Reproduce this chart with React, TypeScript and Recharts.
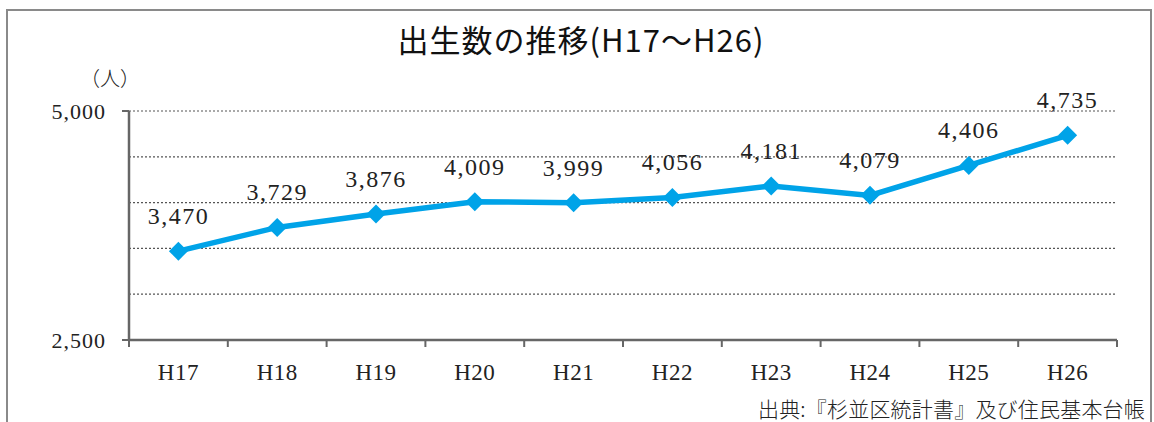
import { LabelList, Line, LineChart, ReferenceLine, XAxis, YAxis } from "recharts";

const years = ["H17", "H18", "H19", "H20", "H21", "H22", "H23", "H24", "H25", "H26"];
const births = [3470, 3729, 3876, 4009, 3999, 4056, 4181, 4079, 4406, 4735];
const yTicks = [2500, 5000];
const gridValues = [3000, 3500, 4000, 4500, 5000];

const data = years.map((year, i) => ({ year, births: births[i] }));

const LINE = "#00a3e8";
const AXIS = "#666666";
const SERIF = "'Liberation Serif', 'DejaVu Serif', serif";
const GOTHIC = "'Noto Sans CJK JP', 'Noto Sans', sans-serif";

const W = 1154;
const H = 422;
const Y_W = 60;
const MARGIN = { top: 111, right: 37, left: 69, bottom: 52 };
const BAND = (W - MARGIN.left - MARGIN.right - Y_W) / years.length;

const fmt = (v: number) => v.toLocaleString("en-US");

function XTick(props: any) {
  const { x, y, payload, index } = props;
  const last = index === years.length - 1;
  return (
    <g>
      <line x1={x - BAND / 2} x2={x - BAND / 2} y1={y - 8} y2={y - 1} stroke={AXIS} strokeWidth={2} />
      {last && <line x1={x + BAND / 2} x2={x + BAND / 2} y1={y - 8} y2={y - 1} stroke={AXIS} strokeWidth={2} />}
      <text x={x} y={y + 32} textAnchor="middle" fontFamily={SERIF} fontSize={23} letterSpacing={0.5} fill="#222">
        {payload.value}
      </text>
    </g>
  );
}

function YTick(props: any) {
  const { x, y, payload } = props;
  return (
    <g>
      <text x={x - 14} y={y + 8} textAnchor="end" fontFamily={SERIF} fontSize={22} letterSpacing={1} fill="#222">
        {fmt(payload.value)}
      </text>
    </g>
  );
}

function Diamond(props: any) {
  const { cx, cy } = props;
  if (cx == null || cy == null) return null;
  const r = 9.5;
  return <path d={`M${cx},${cy - r}L${cx + r},${cy}L${cx},${cy + r}L${cx - r},${cy}Z`} fill={LINE} />;
}

export default function App() {
  return (
    <div style={{ position: "absolute", left: 0, top: 0, width: W, height: H, background: "#fff", overflow: "hidden" }}>
      <div
        style={{
          position: "absolute",
          left: 6,
          top: 9,
          width: 1142,
          height: 440,
          border: "2px solid #8a8a8a",
        }}
      />
      <div
        style={{
          position: "absolute",
          left: 0,
          width: W,
          top: 17,
          textAlign: "center",
          fontFamily: GOTHIC,
          fontSize: 31,
          fontWeight: 400,
          letterSpacing: 1,
          color: "#111",
          paddingLeft: 4,
          lineHeight: "44px",
        }}
      >
        出生数の推移(H17～H26)
      </div>
      <div
        style={{
          position: "absolute",
          left: 80,
          top: 63,
          fontFamily: GOTHIC,
          fontSize: 20,
          fontWeight: 300,
          color: "#222",
          lineHeight: "30px",
        }}
      >
        （人）
      </div>
      <div
        style={{
          position: "absolute",
          right: 9,
          top: 393,
          fontFamily: GOTHIC,
          fontSize: 21,
          fontWeight: 300,
          letterSpacing: 0.2,
          color: "#222",
          lineHeight: "30px",
        }}
      >
        出典:『杉並区統計書』及び住民基本台帳
      </div>
      <div style={{ position: "absolute", left: 0, top: 0 }}>
        <LineChart width={W} height={H} data={data} margin={MARGIN}>
          {gridValues.map((v) => (
            <ReferenceLine key={v} y={v} stroke="#555" strokeWidth={1.2} strokeDasharray="2 2" />
          ))}
          <XAxis
            dataKey="year"
            tickLine={false}
            axisLine={{ stroke: AXIS, strokeWidth: 2.5 }}
            tick={<XTick />}
            height={30}
            interval={0}
            padding={{ left: BAND / 2, right: BAND / 2 }}
          />
          <YAxis
            domain={[2500, 5000]}
            ticks={yTicks}
            width={Y_W}
            tickSize={7}
            tickLine={{ stroke: AXIS, strokeWidth: 2 }}
            axisLine={{ stroke: AXIS, strokeWidth: 2.5 }}
            tick={<YTick />}
          />
          <Line
            dataKey="births"
            stroke={LINE}
            strokeWidth={5.5}
            dot={<Diamond />}
            activeDot={false}
            isAnimationActive={false}
          >
            <LabelList
              dataKey="births"
              position="top"
              offset={27}
              formatter={fmt}
              fontFamily={SERIF}
              fontSize={24}
              letterSpacing={1.5}
              fill="#222"
            />
          </Line>
        </LineChart>
      </div>
    </div>
  );
}
